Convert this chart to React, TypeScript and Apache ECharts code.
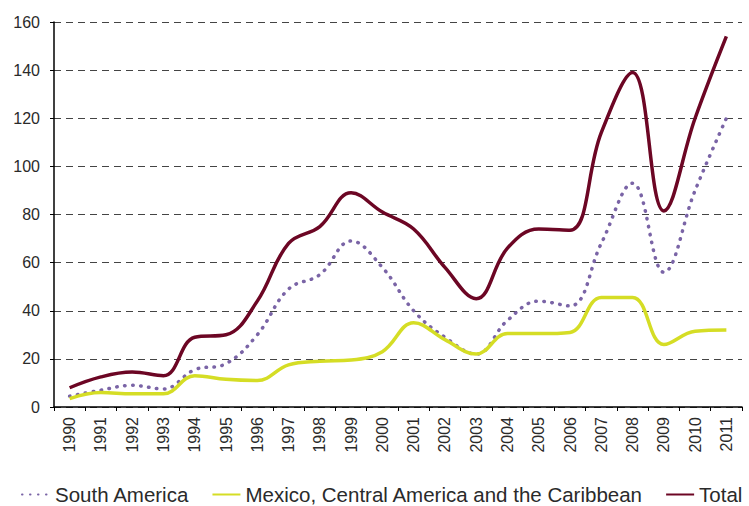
import React, { useEffect, useRef } from "react";
import * as echarts from "echarts";

const years = ["1990","1991","1992","1993","1994","1995","1996","1997","1998","1999","2000","2001","2002","2003","2004","2005","2006","2007","2008","2009","2010","2011"];
const southAmerica = [4.5, 7, 9, 7.5, 15.5, 18, 30, 49, 55, 69, 58, 40, 29, 22, 36, 44, 42, 68, 93, 56, 90, 120];
const mexicoCA = [3.5, 6, 5.5, 5.5, 13, 11.5, 11, 17.5, 19, 19.5, 23, 35, 28, 22, 30.5, 30.5, 31, 45.5, 45.5, 26, 31.5, 32];
const total = [8, 12.5, 14.5, 13, 29, 30, 44, 68, 75, 89, 81, 74, 58, 45, 66, 74, 73.5, 114, 139, 81.5, 120, 154];
const yTicks = { min: 0, max: 160, interval: 20 };

export default function App() {
  const ref = useRef<HTMLDivElement>(null);
  useEffect(() => {
    if (!ref.current) return;
    const chart = echarts.init(ref.current, undefined, { renderer: "svg" });
    const font = "Liberation Sans, Arial, sans-serif";
    chart.setOption({
      animation: false,
      textStyle: { fontFamily: font },
      grid: { left: 54, right: 7, top: 22, bottom: 99, containLabel: false },
      xAxis: {
        type: "category",
        data: years,
        boundaryGap: true,
        axisLine: { lineStyle: { color: "#000", width: 1.5 } },
        axisTick: { show: true, length: 4, lineStyle: { color: "#000" } },
        axisLabel: { rotate: 90, fontSize: 16, color: "#2a2a2a", margin: 10, fontFamily: font },
      },
      yAxis: {
        type: "value",
        min: yTicks.min,
        max: yTicks.max,
        interval: yTicks.interval,
        axisLine: { show: true, lineStyle: { color: "#000", width: 1.5 } },
        axisTick: { show: true, length: 4, lineStyle: { color: "#000" } },
        axisLabel: { fontSize: 16, color: "#2a2a2a", margin: 14, fontFamily: font },
        splitLine: { lineStyle: { color: "#444", type: [7, 5], width: 1 } },
      },
      legend: {
        top: 484,
        left: 21,
        width: 740,
        padding: 0,
        itemWidth: 28,
        itemHeight: 8,
        itemGap: 22,
        itemStyle: { opacity: 0 },
        textStyle: { fontSize: 20.5, lineHeight: 18, color: "#2a2a2a", fontFamily: font },
        data: ["South America", "Mexico, Central America and the Caribbean", "Total"],
      },
      series: [
        {
          name: "South America",
          type: "line",
          data: southAmerica,
          smooth: 0.4,
          symbol: "none",
          lineStyle: { color: "#7a64a6", width: 3.5, type: [0.5, 7.5], cap: "round" },
          itemStyle: { color: "#7a64a6" },
        },
        {
          name: "Mexico, Central America and the Caribbean",
          type: "line",
          data: mexicoCA,
          smooth: 0.4,
          symbol: "none",
          lineStyle: { color: "#d5dd25", width: 3.5 },
          itemStyle: { color: "#d5dd25" },
        },
        {
          name: "Total",
          type: "line",
          data: total,
          smooth: 0.4,
          symbol: "none",
          lineStyle: { color: "#6c0624", width: 3.5 },
          itemStyle: { color: "#6c0624" },
        },
      ],
    });
    return () => chart.dispose();
  }, []);
  return <div ref={ref} style={{ width: 749, height: 506, position: "absolute", left: 0, top: 0 }} />;
}
